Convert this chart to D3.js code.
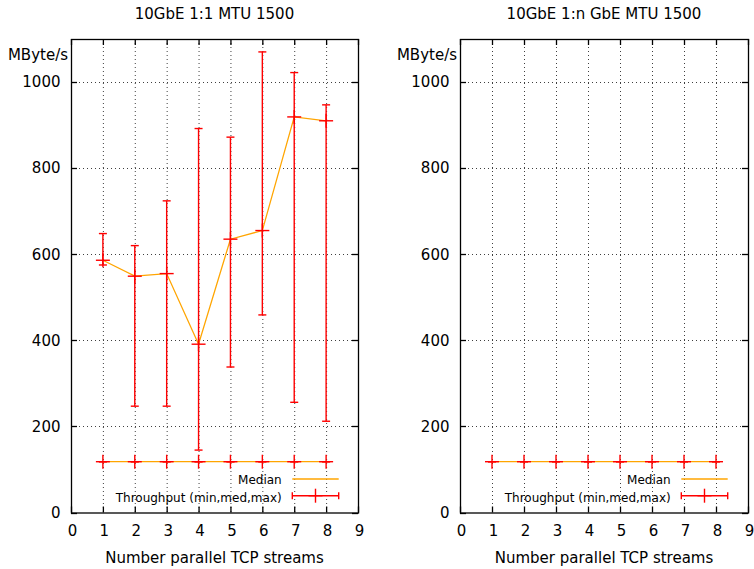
<!DOCTYPE html>
<html>
<head>
<meta charset="utf-8">
<script src="https://cdn.jsdelivr.net/npm/d3@7"></script>
<style>
  html, body { margin: 0; padding: 0; background: #fff; }
  svg { display: block; font-family: "DejaVu Sans", sans-serif; }
</style>
</head>
<body>
<svg id="chart" width="754" height="569"></svg>
<script>
// ---- data ----
const streams = [1, 2, 3, 4, 5, 6, 7, 8];
// 10GbE 1:1 MTU 1500 main series
const mainMin = [575, 247, 247, 145, 338, 459, 256, 212];
const mainMed = [586, 549, 555, 391, 635, 655, 919, 910];
const mainMax = [648, 620, 724, 892, 872, 1070, 1022, 947];
// constant series near 118 MByte/s (both panels)
const lowMin = [118, 118, 118, 118, 118, 118, 118, 118];
const lowMed = [118, 118, 118, 118, 118, 118, 118, 118];
const lowMax = [118, 118, 118, 118, 118, 118, 118, 118];

const titles = ["10GbE 1:1 MTU 1500", "10GbE 1:n GbE MTU 1500"];
const xTicks = [0, 1, 2, 3, 4, 5, 6, 7, 8, 9];
const yTicks = [0, 200, 400, 600, 800, 1000];
const yLabel = "MByte/s";
const xLabel = "Number parallel TCP streams";
const legendMedian = "Median";
const legendThroughput = "Throughput (min,med,max)";

const panels = [
  { left: 71, right: 358, title: titles[0],
    series: [
      { min: mainMin, med: mainMed, max: mainMax },
      { min: lowMin, med: lowMed, max: lowMax }
    ] },
  { left: 460, right: 748, title: titles[1],
    series: [
      { min: lowMin, med: lowMed, max: lowMax }
    ] }
];

const svg = d3.select("#chart");
const plotTop = 39, plotBottom = 512.5;
const RED = "#ff0000", ORANGE = "#ffa500";
const tickLen = 6;

panels.forEach(p => {
  const x = d3.scaleLinear().domain([0, 9]).range([p.left, p.right]);
  const y = d3.scaleLinear().domain([0, 1100]).range([plotBottom, plotTop]);
  const g = svg.append("g");

  // title
  g.append("text").attr("x", (p.left + p.right) / 2).attr("y", 18.5)
    .attr("text-anchor", "middle").attr("font-size", 15).attr("fill", "#000")
    .text(p.title);

  // grid
  const grid = g.append("g").attr("stroke", "#000").attr("stroke-width", 1)
    .attr("stroke-dasharray", "1,3").attr("opacity", 0.75);
  xTicks.filter(t => t > 0 && t < 9).forEach(t => {
    grid.append("line").attr("x1", x(t) + 0.5).attr("x2", x(t) + 0.5)
      .attr("y1", plotTop).attr("y2", plotBottom);
  });
  yTicks.filter(t => t > 0).forEach(t => {
    grid.append("line").attr("y1", Math.round(y(t)) + 0.5).attr("y2", Math.round(y(t)) + 0.5)
      .attr("x1", p.left).attr("x2", p.right);
  });

  // ticks (inward, mirrored)
  const ticks = g.append("g").attr("stroke", "#000").attr("stroke-width", 1.3);
  xTicks.forEach(t => {
    ticks.append("line").attr("x1", x(t) + 0.5).attr("x2", x(t) + 0.5)
      .attr("y1", plotBottom).attr("y2", plotBottom - tickLen);
    ticks.append("line").attr("x1", x(t) + 0.5).attr("x2", x(t) + 0.5)
      .attr("y1", plotTop).attr("y2", plotTop + tickLen);
  });
  yTicks.forEach(t => {
    const yy = Math.round(y(t)) + 0.5;
    ticks.append("line").attr("x1", p.left).attr("x2", p.left + tickLen)
      .attr("y1", yy).attr("y2", yy);
    ticks.append("line").attr("x1", p.right).attr("x2", p.right - tickLen)
      .attr("y1", yy).attr("y2", yy);
  });

  // frame
  g.append("rect").attr("x", p.left + 0.5).attr("y", plotTop + 0.5)
    .attr("width", p.right - p.left).attr("height", plotBottom - plotTop)
    .attr("fill", "none").attr("stroke", "#000").attr("stroke-width", 1.3);

  // tick labels
  yTicks.forEach(t => {
    g.append("text").attr("x", p.left - 10.5).attr("y", y(t) + 5.3)
      .attr("text-anchor", "end").attr("font-size", 15).text(t);
  });
  xTicks.forEach(t => {
    g.append("text").attr("x", x(t) + 1.5).attr("y", 536)
      .attr("text-anchor", "middle").attr("font-size", 15).text(t);
  });
  g.append("text").attr("x", p.left - 3).attr("y", 59.5)
    .attr("text-anchor", "end").attr("font-size", 15).text(yLabel);
  g.append("text").attr("x", (p.left + p.right) / 2).attr("y", 563)
    .attr("text-anchor", "middle").attr("font-size", 15).text(xLabel);

  // series
  const line = d3.line().x(d => x(d[0])).y(d => y(d[1]));
  p.series.forEach(s => {
    const pts = streams.map((k, i) => [k, s.med[i]]);
    g.append("path").attr("d", line(pts)).attr("fill", "none")
      .attr("stroke", ORANGE).attr("stroke-width", 1.3);
  });
  p.series.forEach(s => {
    const eb = g.append("g").attr("stroke", RED).attr("stroke-width", 1.4);
    streams.forEach((k, i) => {
      const cx = x(k);
      eb.append("line").attr("x1", cx).attr("x2", cx)
        .attr("y1", y(s.min[i])).attr("y2", y(s.max[i]));
      [s.min[i], s.max[i]].forEach(v => {
        eb.append("line").attr("x1", cx - 4).attr("x2", cx + 4)
          .attr("y1", y(v)).attr("y2", y(v));
      });
      // point marker "+"
      eb.append("line").attr("x1", cx - 7).attr("x2", cx + 7)
        .attr("y1", y(s.med[i])).attr("y2", y(s.med[i]));
      eb.append("line").attr("x1", cx).attr("x2", cx)
        .attr("y1", y(s.med[i]) - 7).attr("y2", y(s.med[i]) + 7);
    });
  });

  // legend
  const textX = p.left + 210.7;
  const sx0 = p.left + 221.3, sx1 = p.left + 267.7;
  g.append("text").attr("x", textX).attr("y", 483.5).attr("text-anchor", "end")
    .attr("font-size", 12).text(legendMedian);
  g.append("line").attr("x1", sx0).attr("x2", sx1).attr("y1", 479).attr("y2", 479)
    .attr("stroke", ORANGE).attr("stroke-width", 1.3);
  g.append("text").attr("x", textX).attr("y", 501.7).attr("text-anchor", "end")
    .attr("font-size", 12).text(legendThroughput);
  const lg = g.append("g").attr("stroke", RED).attr("stroke-width", 1.4);
  const ly = 495.7, lmid = (sx0 + sx1) / 2;
  lg.append("line").attr("x1", sx0).attr("x2", sx1).attr("y1", ly).attr("y2", ly);
  lg.append("line").attr("x1", sx0).attr("x2", sx0).attr("y1", ly - 3.5).attr("y2", ly + 3.5);
  lg.append("line").attr("x1", sx1).attr("x2", sx1).attr("y1", ly - 3.5).attr("y2", ly + 3.5);
  lg.append("line").attr("x1", lmid).attr("x2", lmid).attr("y1", ly - 7).attr("y2", ly + 7);
  lg.append("line").attr("x1", lmid - 7).attr("x2", lmid + 7).attr("y1", ly).attr("y2", ly);
});
</script>
</body>
</html>
